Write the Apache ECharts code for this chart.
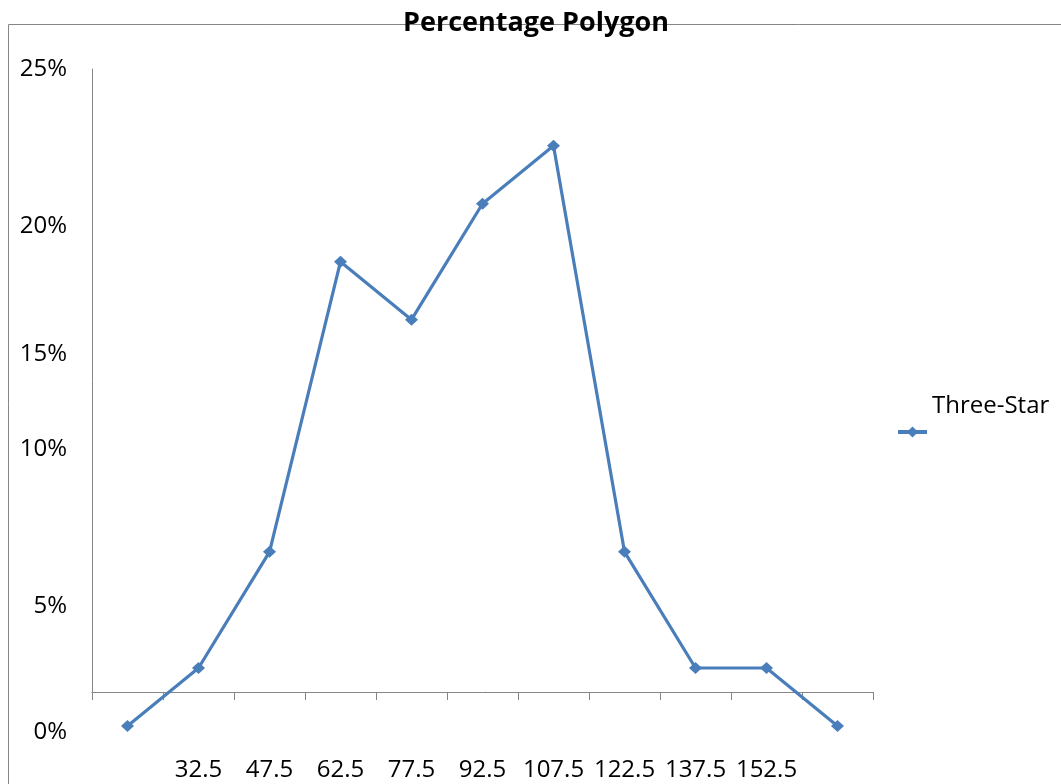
<!DOCTYPE html>
<html>
<head>
<meta charset="utf-8">
<title>Percentage Polygon</title>
<script src="https://cdn.jsdelivr.net/npm/echarts@6/dist/echarts.min.js"></script>
<style>
    html, body { margin: 0; padding: 0; background: #fff; }
    #chart { width: 1061px; height: 784px; }
</style>
</head>
<body>
<div id="chart"></div>
<script>
// class midpoints (the two end classes carry no label in the original)
var categories = ['', '32.5', '47.5', '62.5', '77.5', '92.5', '107.5', '122.5', '137.5', '152.5', ''];
// percentage of hotels in each class
var threeStar = [0, 2.22, 6.67, 17.78, 15.56, 20.0, 22.22, 6.67, 2.22, 2.22, 0];
var seriesName = 'Three-Star';

// y tick labels, and where the original puts them (they are not evenly spaced)
var yTickLabels = ['0%', '5%', '10%', '15%', '20%', '25%'];
var yLabelAt = [-0.23, 4.57, 10.61, 14.25, 19.15, 25.16];

var axisGrey = '#868686';
var lineBlue = '#4A7EBB';
var fontName = '"Open Sans", "Liberation Sans", sans-serif';

var chart = echarts.init(document.getElementById('chart'));
var option = {
    animation: false,
    backgroundColor: '#fff',
    title: {
        text: 'Percentage Polygon',
        left: 536,
        textAlign: 'center',
        top: 10,
        padding: 0,
        textStyle: {
            fontFamily: fontName,
            fontWeight: 'bold',
            fontSize: 27,
            color: '#000'
        }
    },
    graphic: [{
        // outer chart frame, only its top and left edges are on the picture
        type: 'rect',
        z: -10,
        silent: true,
        shape: { x: 8.5, y: 24.5, width: 1100, height: 1000 },
        style: { fill: 'none', stroke: axisGrey, lineWidth: 1 }
    }],
    legend: {
        left: 896,
        top: 380,
        padding: 0,
        itemWidth: 29,
        itemHeight: 14,
        lineStyle: { width: 4 },
        // the name sits one line above its marker, as in the original
        formatter: function (name) {
            return name + '\n\u00a0';
        },
        textStyle: {
            fontFamily: fontName,
            fontSize: 24,
            lineHeight: 52,
            color: '#000'
        },
        data: [seriesName]
    },
    grid: [
        // data grid
        { left: 92, right: 188, top: 68, bottom: 45 },
        // axis frame grid
        { left: 92, right: 188, top: 69, bottom: 92 }
    ],
    xAxis: [
        {
            type: 'category',
            gridIndex: 0,
            data: categories,
            boundaryGap: true,
            show: false
        },
        {
            type: 'category',
            gridIndex: 1,
            data: categories,
            boundaryGap: true,
            axisLine: { onZero: false, lineStyle: { color: axisGrey, width: 1 } },
            axisTick: { show: true, interval: 0, length: 8, lineStyle: { color: axisGrey } },
            axisLabel: {
                interval: 0,
                margin: 66,
                fontFamily: fontName,
                fontSize: 24,
                lineHeight: 24,
                color: '#000'
            },
            splitLine: { show: false }
        }
    ],
    yAxis: [
        {
            type: 'value',
            gridIndex: 0,
            min: -0.5,
            max: 25.2,
            axisLine: { show: false },
            axisTick: { show: false },
            splitLine: { show: false },
            axisLabel: {
                customValues: yLabelAt,
                margin: 25,
                fontFamily: fontName,
                fontSize: 24,
                lineHeight: 24,
                color: '#000',
                formatter: function (val) {
                    var i = yLabelAt.indexOf(val);
                    return i < 0 ? '' : yTickLabels[i];
                }
            }
        },
        {
            type: 'value',
            gridIndex: 1,
            min: 0,
            max: 1,
            axisLine: { show: true, lineStyle: { color: axisGrey, width: 1 } },
            axisTick: { show: false },
            axisLabel: { show: false },
            splitLine: { show: false }
        }
    ],
    series: [
        {
            name: seriesName,
            type: 'line',
            xAxisIndex: 0,
            yAxisIndex: 0,
            data: threeStar,
            symbol: 'diamond',
            symbolSize: [13, 12],
            lineStyle: { color: lineBlue, width: 3.2 },
            itemStyle: { color: lineBlue },
            z: 5
        }
    ]
};
chart.setOption(option);
</script>
</body>
</html>
